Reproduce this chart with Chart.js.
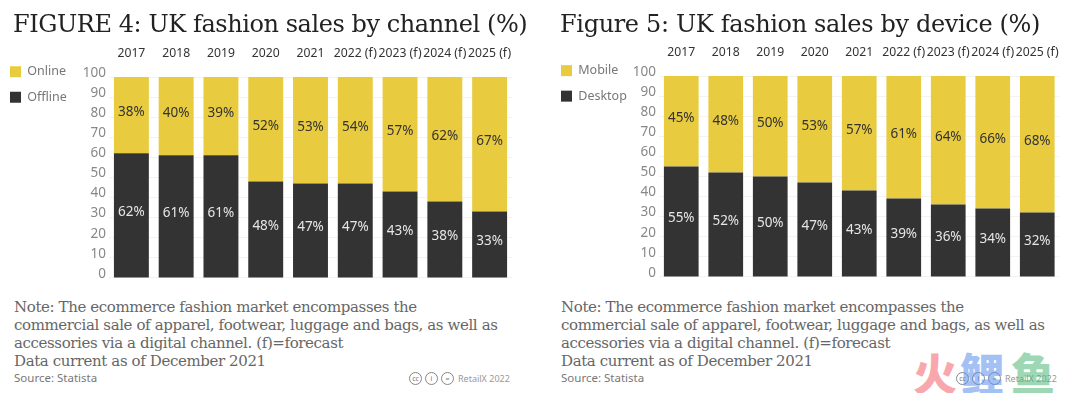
<!DOCTYPE html>
<html><head><meta charset="utf-8">
<script src="https://cdn.jsdelivr.net/npm/chart.js@4"></script>
<style>
html,body{margin:0;padding:0;background:#fff;width:1080px;height:393px;overflow:hidden}
canvas{position:absolute;top:0}
.t{position:absolute;white-space:nowrap}
.title{font-family:"DejaVu Serif",serif;font-size:24px;color:#222;top:9px;line-height:30px}
.note{font-family:"DejaVu Serif",serif;font-size:15px;color:#666;line-height:18px;top:298px;letter-spacing:-.39px}
.src{font-family:"Noto Sans",sans-serif;font-size:11.5px;color:#777;top:370px}
.rx{font-family:"Noto Sans",sans-serif;font-size:9px;color:#999;top:372px}
.cc{position:absolute;top:372px;width:11px;height:11px;border:1px solid #888;border-radius:50%;font:7px/11px "Noto Sans",sans-serif;color:#777;text-align:center}
.wm{font-family:"Noto Sans CJK SC",sans-serif;font-weight:900;font-size:44px;line-height:44px;top:350px;opacity:.55}
</style></head><body>
<div style="position:absolute;left:-3px;top:0;width:540px;height:289px"><canvas id="c1" width="540" height="289"></canvas></div>
<div style="position:absolute;left:540px;top:-1px;width:540px;height:289px"><canvas id="c2" width="540" height="289"></canvas></div>
<div class="t title" style="left:13px;letter-spacing:-.43px">FIGURE 4: UK fashion sales by channel (%)</div>
<div class="t title" style="left:560px;letter-spacing:-.35px">Figure 5: UK fashion sales by device (%)</div>
<div class="t note" style="left:14px">Note: The ecommerce fashion market encompasses the<br>commercial sale of apparel, footwear, luggage and bags, as well as<br>accessories via a digital channel. (f)=forecast<br>Data current as of December 2021</div>
<div class="t note" style="left:561px">Note: The ecommerce fashion market encompasses the<br>commercial sale of apparel, footwear, luggage and bags, as well as<br>accessories via a digital channel. (f)=forecast<br>Data current as of December 2021</div>
<div class="t src" style="left:14px">Source: Statista</div>
<div class="t src" style="left:561px">Source: Statista</div>
<div class="cc" style="left:409px">cc</div><div class="cc" style="left:425px">i</div><div class="cc" style="left:441px">=</div>
<div class="t rx" style="left:458px">RetailX 2022</div>
<div class="cc" style="left:956px">cc</div><div class="cc" style="left:972px">i</div><div class="cc" style="left:988px">=</div>
<div class="t rx" style="left:1005px">RetailX 2022</div>
<div class="t wm" style="left:913px;color:#f4626a">火</div>
<div class="t wm" style="left:960px;color:#5b8ff0">鲤</div>
<div class="t wm" style="left:1011px;color:#4fb878">鱼</div>
<script>
const categories=["2017","2018","2019","2020","2021","2022 (f)","2023 (f)","2024 (f)","2025 (f)"];
const yTicks=[0,10,20,30,40,50,60,70,80,90,100];
const offline=[62,61,61,48,47,47,43,38,33];
const online=[38,40,39,52,53,54,57,62,67];
const desktop=[55,52,50,47,43,39,36,34,32];
const mobile=[45,48,50,53,57,61,64,66,68];
const YELLOW="#e8cb3f",DARK="#333333";
const FONT='"Noto Sans",sans-serif';

const segLabels={id:"segLabels",afterDatasetsDraw(chart){
  const ctx=chart.ctx;ctx.save();
  ctx.font='13.5px '+FONT;ctx.textAlign="center";ctx.textBaseline="middle";
  chart.data.datasets.forEach((ds,i)=>{
    ctx.fillStyle=i===0?"#e6e6e6":"#333";
    chart.getDatasetMeta(i).data.forEach((bar,j)=>{
      const top=Math.max(bar.y,chart.chartArea.top);
      ctx.fillText(ds.data[j]+"%",bar.x,(top+bar.base)/2-3);
    });
  });
  ctx.restore();
}};

function make(id,lowName,lowData,highName,highData,padLeft,padRight,plotLeft){
  new Chart(document.getElementById(id),{
    type:"bar",
    data:{labels:categories,datasets:[
      {label:lowName,data:lowData,backgroundColor:DARK,barPercentage:.78,categoryPercentage:1,stack:"s"},
      {label:highName,data:highData,backgroundColor:YELLOW,barPercentage:.78,categoryPercentage:1,stack:"s"}
    ]},
    plugins:[segLabels],
    options:{responsive:false,animation:false,
      layout:{padding:{left:padLeft,right:padRight,top:44,bottom:3}},
      plugins:{tooltip:{enabled:false},title:{display:false},
        legend:{position:"left",align:"start",reverse:true,maxWidth:80,
          title:{display:true,text:" ",padding:0,font:{size:7}},
          labels:{boxWidth:11,boxHeight:11,padding:13,color:"#777",font:{family:FONT,size:12.5}}}},
      scales:{
        x:{position:"top",stacked:true,border:{display:false},grid:{display:false,drawTicks:false},
          afterFit(s){s.height=33;},
          ticks:{color:"#333",font:{family:FONT,size:12.2},padding:16,autoSkip:false,maxRotation:0}},
        y:{stacked:true,min:0,max:100,border:{display:false},
          grid:{color:"#f3f3f3",drawTicks:false},
          afterFit(s){s.width=plotLeft-padLeft-s.chart.legend.width;},
          afterBuildTicks(s){s.ticks=yTicks.map(v=>({value:v}));},
          ticks:{color:"#888",font:{family:FONT,size:13.5},padding:3,labelOffset:-4}}
      }
    }
  });
}
make("c1","Offline",offline,"Online",online,0,25,112);
make("c2","Desktop",desktop,"Mobile",mobile,8,20.5,119);
</script>
</body></html>
